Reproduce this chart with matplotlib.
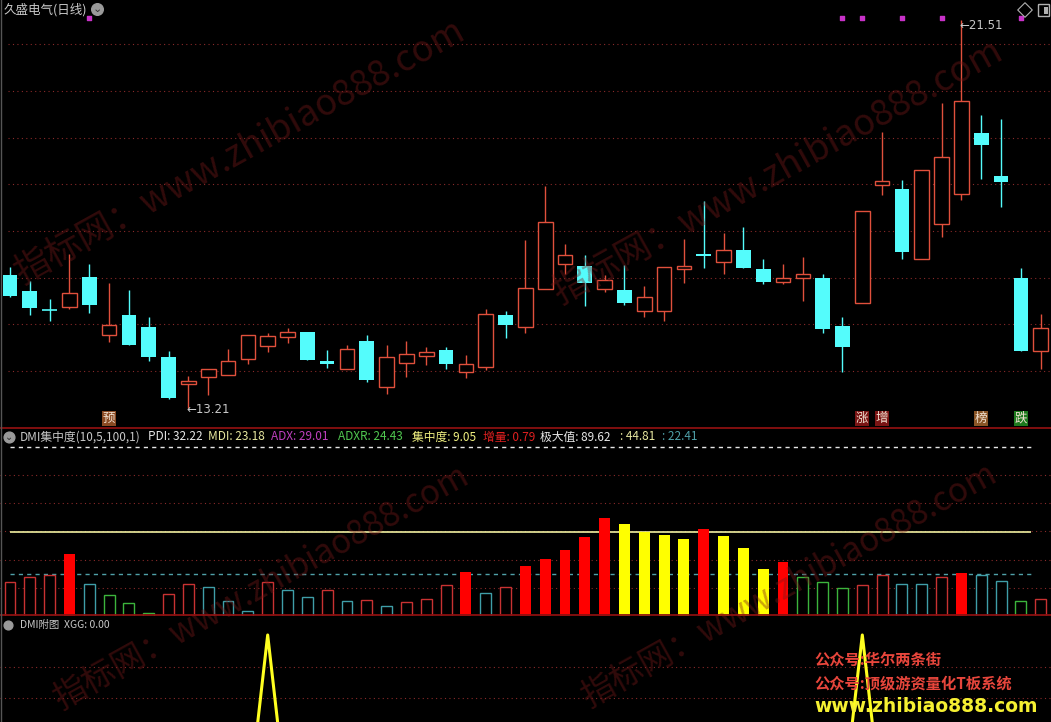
import matplotlib
matplotlib.use('Agg')
import matplotlib.pyplot as plt
from matplotlib.patches import FancyBboxPatch

plt.rcParams['font.family'] = ['Noto Sans CJK SC', 'DejaVu Sans']

W, H = 1051, 722

# daily candles (53 sessions)
opens  = [16.06, 15.71, 15.30, 15.37, 16.01, 14.77, 15.20, 14.94, 14.30, 13.72,
          13.87, 13.91, 14.26, 14.54, 14.73, 14.84, 14.21, 14.04, 14.64, 13.66,
          14.17, 14.32, 14.45, 13.98, 14.09, 15.20, 14.94, 15.76, 16.29, 16.25,
          15.76, 15.74, 15.29, 15.29, 16.19, 16.51, 16.34, 16.59, 16.19, 15.91,
          15.99, 15.99, 14.96, 15.46, 17.99, 17.90, 16.40, 17.15, 17.79, 19.10,
          18.18, 15.99, 14.43]
highs  = [16.23, 15.93, 15.54, 16.51, 16.29, 15.89, 15.74, 15.16, 14.43, 13.89,
          14.04, 14.47, 14.77, 14.81, 14.92, 14.84, 14.45, 14.56, 14.77, 14.56,
          14.64, 14.51, 14.51, 14.34, 15.33, 15.29, 16.81, 17.96, 16.72, 16.49,
          16.06, 16.27, 15.82, 16.23, 16.83, 17.64, 16.96, 17.09, 16.40, 16.29,
          16.44, 16.08, 15.16, 17.43, 19.12, 18.09, 18.31, 19.74, 21.51, 19.49,
          19.40, 16.21, 15.22]
lows   = [15.59, 15.20, 15.07, 15.33, 15.24, 14.62, 14.56, 14.21, 13.40, 13.21,
          13.49, 13.91, 14.15, 14.41, 14.60, 14.24, 14.06, 14.04, 13.76, 13.51,
          13.87, 14.13, 14.04, 13.85, 14.02, 14.71, 14.81, 15.76, 16.08, 15.39,
          15.69, 15.41, 15.16, 15.07, 15.89, 16.21, 16.08, 16.21, 15.86, 15.86,
          15.50, 14.81, 13.98, 15.46, 17.77, 16.40, 16.40, 16.87, 17.66, 18.11,
          17.51, 14.43, 14.04]
closes = [15.61, 15.35, 15.29, 15.67, 15.41, 14.99, 14.56, 14.30, 13.42, 13.79,
          14.04, 14.21, 14.77, 14.75, 14.84, 14.24, 14.15, 14.47, 13.81, 14.30,
          14.36, 14.41, 14.15, 14.15, 15.22, 14.99, 15.78, 17.19, 16.49, 15.89,
          15.95, 15.46, 15.59, 16.23, 16.25, 16.46, 16.59, 16.21, 15.91, 15.99,
          16.08, 14.90, 14.51, 17.43, 18.07, 16.55, 18.31, 18.59, 19.79, 18.84,
          18.05, 14.43, 14.92]

# signal marks on the price panel
dot_idx = [4, 42, 43, 45, 47, 51]
tags = [(5, '预'), (43, '涨'), (44, '增'), (49, '榜'), (51, '跌')]

# DMI concentration histogram and its state per bar
dmi_vals = [18.1, 20.6, 21.9, 33.2, 17.3, 11.1, 7.2, 1.8, 11.7, 16.9,
            15.8, 7.9, 2.9, 18.1, 13.8, 10.4, 13.8, 7.9, 8.5, 5.6,
            7.4, 9.0, 16.6, 23.5, 12.2, 15.8, 26.7, 30.3, 35.2, 42.2,
            51.9, 49.2, 44.7, 43.3, 41.1, 46.5, 42.7, 36.3, 25.0, 28.9,
            21.0, 18.0, 15.1, 16.4, 22.1, 17.4, 16.9, 20.6, 22.8, 21.8,
            18.9, 8.1, 9.2]
dmi_state = ['rh', 'rh', 'rh', 'R', 'th', 'gh', 'gh', 'gh', 'rh', 'rh',
             'th', 'th', 'th', 'rh', 'th', 'th', 'rh', 'th', 'rh', 'th',
             'rh', 'rh', 'rh', 'R', 'th', 'rh', 'R', 'R', 'R', 'R',
             'R', 'Y', 'Y', 'Y', 'Y', 'R', 'Y', 'Y', 'Y', 'R',
             'gh', 'gh', 'gh', 'rh', 'rh', 'th', 'th', 'rh', 'R', 'th',
             'th', 'gh', 'rh']
dmi_levels = [89.62, 44.81, 22.41]

# XGG sub-chart
xgg = [0] * 53
xgg[13] = 1
xgg[43] = 1

n = len(opens)
x = list(range(n))
xlim = (-0.505, 52.52)

fig = plt.figure(figsize=(W / 100, H / 100), dpi=100, facecolor='black')

def ax_at(top, bottom):
    a = fig.add_axes([0, 1 - bottom / H, 1, (bottom - top) / H])
    a.set_facecolor('black')
    a.set_xlim(*xlim)
    a.axis('off')
    return a

grid_c = '#8a2a2a'

# ---- price panel
ax = ax_at(0, 428)
ax.set_ylim(12.778, 21.949)
for p in range(14, 22):
    ax.axhline(p, xmin=8 / W, color=grid_c, lw=0.8, ls=(0, (1, 3)), zorder=1)

up_c, dn_c = '#e0503c', '#54fcfc'
bw = 0.74
for i in x:
    o, hi, lo, c = opens[i], highs[i], lows[i], closes[i]
    col = up_c if c >= o else dn_c
    ax.vlines(i, lo, hi, color=col, lw=1.0, zorder=2)
    if abs(c - o) < 0.03:
        ax.hlines(o, i - bw / 2, i + bw / 2, color=col, lw=1.2, zorder=3)
    elif c >= o:
        ax.bar(i, c - o, bottom=o, width=bw, facecolor='black', edgecolor=col, lw=1.0, zorder=3)
    else:
        ax.bar(i, o - c, bottom=c, width=bw, color=col, lw=0, zorder=3)

ax.scatter(dot_idx, [21.56] * len(dot_idx), marker='s', s=5, color='#c832c8', zorder=4)

lo_i = lows.index(min(lows))
hi_i = highs.index(max(highs))
ax.text(lo_i - 0.1, min(lows) - 0.04, '←' + f'{min(lows):.2f}', color='#c8c8c8', fontsize=8.5,
        family='DejaVu Sans', ha='left', va='center', zorder=5)
ax.text(hi_i - 0.1, max(highs) - 0.1, '←' + f'{max(highs):.2f}', color='#c8c8c8', fontsize=8.5,
        family='DejaVu Sans', ha='left', va='center', zorder=5)

tag_bg = {'预': '#8a4a22', '涨': '#7a1414', '增': '#7a1414', '榜': '#8a5526', '跌': '#1e7a1e'}
for i, t in tags:
    ax.text(i, 12.98, t, color='#f0e0d0', fontsize=9, ha='center', va='center', zorder=5,
            bbox=dict(boxstyle='square,pad=0.05', fc=tag_bg[t], ec='none'))

# ---- DMI panel
ax2 = ax_at(428, 616)
ax2.set_ylim(0.2, 99.8)
for v in (15, 30, 45, 60, 75):
    ax2.axhline(v, color=grid_c, lw=0.8, ls=(0, (1, 3)), zorder=1)

state_style = {
    'R': dict(color='#ff0000', lw=0),
    'Y': dict(color='#ffff00', lw=0),
    'rh': dict(facecolor='black', edgecolor='#c83232', lw=1.0),
    'th': dict(facecolor='black', edgecolor='#3f9ea8', lw=1.0),
    'gh': dict(facecolor='black', edgecolor='#3cb43c', lw=1.0),
}
for i in x:
    ax2.bar(i, dmi_vals[i], width=0.55, zorder=3, **state_style[dmi_state[i]])

x_end = 51.5
ax2.hlines(dmi_levels[0], 0, x_end, color='#e6e6e6', lw=1.0, ls=(0, (3, 3)), zorder=2)
ax2.hlines(dmi_levels[1], 0, x_end, color='#f0f0a0', lw=1.2, zorder=2)
ax2.hlines(dmi_levels[2], 0, x_end, color='#4fa0a8', lw=1.0, ls=(0, (3, 3)), zorder=2)

# ---- XGG panel
ax3 = ax_at(616, 722)
ax3.set_ylim(0.5, 1.109)
for v in (0.816, 0.638):
    ax3.axhline(v, color=grid_c, lw=0.8, ls=(0, (1, 3)), zorder=1)
ax3.plot(x, xgg, color='#ffff20', lw=2.2, zorder=3)

# ---- overlay in pixel coordinates for frame, headers and watermarks
ov = fig.add_axes([0, 0, 1, 1], facecolor='none')
ov.set_xlim(0, W)
ov.set_ylim(H, 0)
ov.axis('off')

for yy in (428, 615):
    ov.plot([0, W], [yy, yy], color='#8b1010', lw=1.3)
ov.plot([1, 1], [0, H], color='#555555', lw=1.0)

wm_c = '#7a1a1a'
wm = '指标网：www.zhibiao888.com'
for cx, cy, fs in [(240, 152, 26), (778, 172, 26), (262, 588, 24), (790, 586, 24)]:
    ov.text(cx, cy, wm, color=wm_c, alpha=0.4, fontsize=fs, rotation=29,
            ha='center', va='center', rotation_mode='anchor', zorder=1)

ov.text(4, 10, '久盛电气(日线)', color='#c8c8c8', fontsize=9, va='center', ha='left')
ov.scatter([97], [9], s=70, color='#9a9a9a')
ov.text(97, 9.5, '⌄', color='#303030', fontsize=8, ha='center', va='center', family='DejaVu Sans')
ov.scatter([1025], [10], marker='D', s=55, facecolor='none', edgecolor='#b0b0b0', lw=0.8)
ov.add_patch(FancyBboxPatch((1039, 5), 10, 11, boxstyle='round,pad=0.5', fc='none', ec='#b0b0b0', lw=1.0))
ov.add_patch(plt.Rectangle((1044, 7), 4, 7, fc='#b0b0b0', ec='none'))

hy = 437
ov.scatter([9], [hy], s=60, color='#9a9a9a')
ov.text(9, hy + 0.5, '⌄', color='#303030', fontsize=7, ha='center', va='center', family='DejaVu Sans')
header = [
    (20, 'DMI集中度(10,5,100,1)', '#c8c8c8'),
    (148, 'PDI: 32.22', '#e8e8e8'),
    (208, 'MDI: 23.18', '#e8e8a0'),
    (271, 'ADX: 29.01', '#c040c0'),
    (338, 'ADXR: 24.43', '#50c850'),
    (412, '集中度: 9.05', '#f0f080'),
    (483, '增量: 0.79', '#e02020'),
    (540, '极大值: 89.62', '#e8e8e8'),
    (620, ': 44.81', '#e8e8a0'),
    (662, ': 22.41', '#4fa0a8'),
]
for hx, t, c in header:
    ov.text(hx, hy, t, color=c, fontsize=8.5, ha='left', va='center')

ov.scatter([8], [625], s=40, color='#9a9a9a')
ov.text(20, 625, 'DMI附图  XGG: 0.00', color='#c8c8c8', fontsize=7.5, ha='left', va='center')

ov.text(814, 660, '公众号:华尔两条街', color='#e8463c', fontsize=11, weight='bold', ha='left', va='center')
ov.text(814, 683, '公众号:顶级游资量化T板系统', color='#e8463c', fontsize=11, weight='bold', ha='left', va='center')
ov.text(814, 706, 'www.zhibiao888.com', color='#f5f032', fontsize=13.5, weight='bold',
        family='DejaVu Sans', ha='left', va='center')

fig.savefig('out.png', dpi=100, facecolor='black')
